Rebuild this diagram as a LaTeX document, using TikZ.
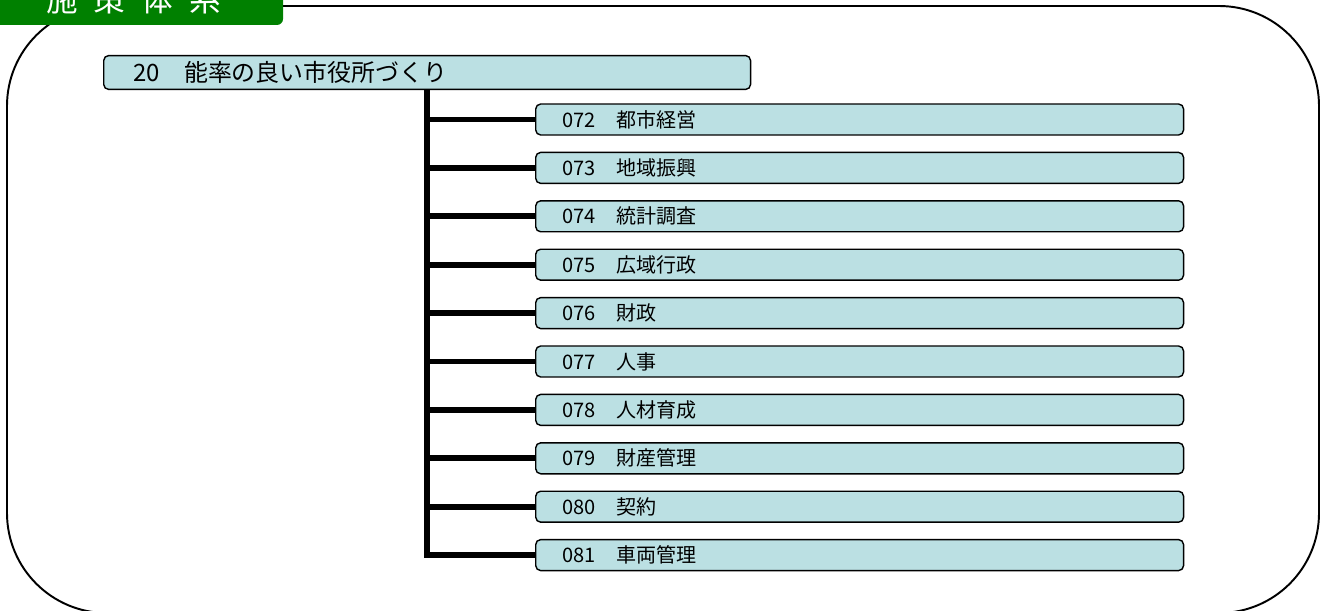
\documentclass[tikz,border=0pt]{standalone}
\usepackage{fontspec}
\setmainfont{Noto Sans CJK JP}
\usetikzlibrary{calc}

\definecolor{tabgreen}{RGB}{0,128,0}
\definecolor{boxfill}{RGB}{187,224,227}

\tikzset{
  item/.style={draw=black, line width=0.8pt, fill=boxfill, rounded corners=0.1cm,
    minimum height=0.62cm, inner xsep=0.54cm, text width=11.88cm, align=left,
    anchor=west, font=\fontsize{11.4pt}{13pt}\selectfont},
  rootitem/.style={item, inner xsep=0.6cm, text width=11.74cm,
    font=\fontsize{13.6pt}{15pt}\selectfont},
  branch/.style={line width=3.4pt},
  tabtitle/.style={text=white, inner sep=0pt, font=\fontsize{18pt}{20pt}\selectfont}
}

\begin{document}
\begin{tikzpicture}[x=0.02cm, y=-0.02cm]
                \useasboundingbox (0,0) rectangle (1325,611);
                \clip (0,0) rectangle (1325,611);

                % outer frame
                \draw[line width=1.1pt, rounded corners=2cm] (7,6) rectangle (1319,613);

                % title tab
                \fill[tabgreen, rounded corners=0.12cm] (-10,-10) rectangle (283,25);
                \node[tabtitle, anchor=base west] (title) at (46,12)
                    {施\hspace{0.32cm}策\hspace{0.32cm}体\hspace{0.32cm}系};

                % policy
                \node[rootitem] (root) at (103,72.5) {20　能率の良い市役所づくり};

                % measures
                \node[item] (m072) at (535,119.5) {072　都市経営};
                \node[item] (m073) at (535,167.9) {073　地域振興};
                \node[item] (m074) at (535,216.3) {074　統計調査};
                \node[item] (m075) at (535,264.7) {075　広域行政};
                \node[item] (m076) at (535,313.1) {076　財政};
                \node[item] (m077) at (535,361.5) {077　人事};
                \node[item] (m078) at (535,409.9) {078　人材育成};
                \node[item] (m079) at (535,458.3) {079　財産管理};
                \node[item] (m080) at (535,506.7) {080　契約};
                \node[item] (m081) at (535,555.1) {081　車両管理};

                % tree lines
                \draw[branch] (root.south) |- (m081.west);
                \draw[branch] (root.south |- m072.west) -- (m072.west);
                \draw[branch] (root.south |- m073.west) -- (m073.west);
                \draw[branch] (root.south |- m074.west) -- (m074.west);
                \draw[branch] (root.south |- m075.west) -- (m075.west);
                \draw[branch] (root.south |- m076.west) -- (m076.west);
                \draw[branch] (root.south |- m077.west) -- (m077.west);
                \draw[branch] (root.south |- m078.west) -- (m078.west);
                \draw[branch] (root.south |- m079.west) -- (m079.west);
                \draw[branch] (root.south |- m080.west) -- (m080.west);
            \end{tikzpicture}
\end{document}
